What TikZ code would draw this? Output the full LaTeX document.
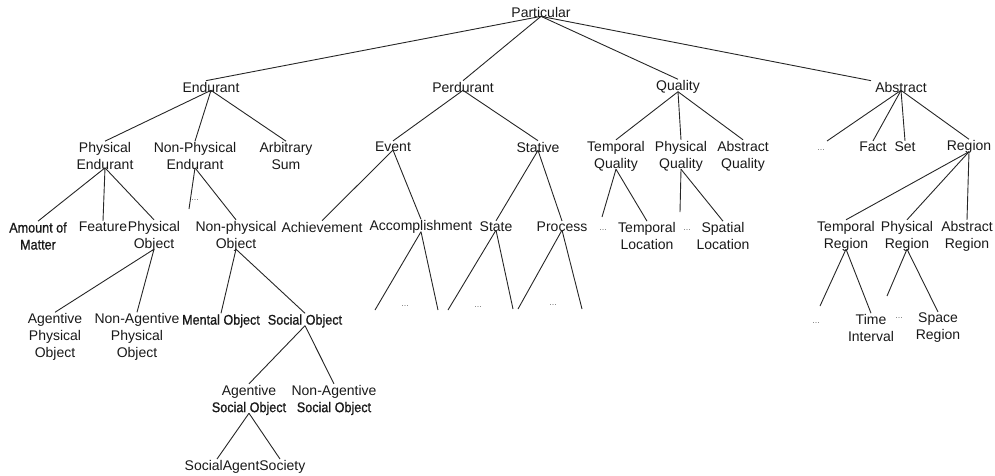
\documentclass[tikz,border=0pt]{standalone}
\usepackage{fontspec}
\setmainfont{Liberation Sans}
\newfontfamily\narrowfont[FakeStretch=0.9,FakeBold=1]{Liberation Sans}
\begin{document}
\begin{tikzpicture}[x=1pt,y=-1pt,
  lbl/.style={font=\fontsize{14}{17}\selectfont, align=center, inner sep=1pt, text=black!90},
  nlbl/.style={font=\fontsize{14}{17}\narrowfont, align=center, inner sep=1pt, text=black!90},
  dots/.style={font=\fontsize{9}{10}\selectfont, text=black!55, inner sep=0.5pt},
  edge/.style={draw=black!85, line width=0.9pt}]
\useasboundingbox (0,0) rectangle (995,475);
% level 0/1
\node[lbl] (P) at (541,12) {Particular};
\node[lbl] (E) at (211,87) {Endurant};
\node[lbl] (Pe) at (463,87) {Perdurant};
\node[lbl] (Q) at (678,87) {Quality};
\node[lbl] (A) at (901,87) {Abstract};
% level 2
\node[lbl] (PE) at (105,156) {Physical\\Endurant};
\node[lbl] (NPE) at (195,156) {Non-Physical\\Endurant};
\node[lbl] (AS) at (286,156) {Arbitrary\\Sum};
\node[lbl] (Ev) at (393,147) {Event};
\node[lbl] (St) at (538,147) {Stative};
\node[lbl] (TQ) at (616,156) {Temporal\\Quality};
\node[lbl] (PQ) at (681,156) {Physical\\Quality};
\node[lbl] (AQ) at (743,156) {Abstract\\Quality};
\node[dots] (Ad) at (821,150) {...};
\coordinate (Ade) at (827,141);
\node[lbl] (Fa) at (873,147) {Fact};
\node[lbl] (Se) at (905,147) {Set};
\node[lbl] (Re) at (969,147) {Region};
% level 3
\node[nlbl] (AoM) at (38,236) {Amount of\\Matter};
\node[lbl] (Fe) at (103,227) {Feature};
\node[lbl] (PO) at (154,236) {Physical\\Object};
\node[dots] (NPEd) at (195,200) {...};
\coordinate (NPEe) at (189,209);
\node[lbl] (NPO) at (236,236) {Non-physical\\Object};
\node[lbl] (Ach) at (322,227) {Achievement};
\node[lbl] (Acc) at (421,227) {Accomplishment};
\node[lbl] (Sta) at (496,227) {State};
\node[lbl] (Pro) at (562,227) {Process};
\node[dots] (TQd) at (603,230) {...};
\coordinate (TQe) at (602,217);
\node[lbl] (TL) at (647,236) {Temporal\\Location};
\node[dots] (PQd) at (687,230) {...};
\coordinate (PQe) at (680,212);
\node[lbl] (SL) at (723,236) {Spatial\\Location};
\node[lbl] (TR) at (846,236) {Temporal\\Region};
\node[lbl] (PR) at (907,236) {Physical\\Region};
\node[lbl] (AR) at (967,236) {Abstract\\Region};
% level 4
\coordinate (a1) at (375,310); \coordinate (a2) at (438,310);
\node[dots] (ad) at (405,306) {...};
\coordinate (s1) at (448,310); \coordinate (s2) at (513,309);
\node[dots] (sd) at (478,307) {...};
\coordinate (p1) at (518,309); \coordinate (p2) at (582,309);
\node[dots] (pd) at (553,305) {...};
\node[lbl] (APO) at (55,337) {Agentive\\Physical\\Object};
\node[lbl] (NAPO) at (137,337) {Non-Agentive\\Physical\\Object};
\node[nlbl] (MO) at (221,321) {Mental Object};
\node[nlbl] (SO) at (305,321) {Social Object};
\node[lbl] (ASO) at (249,400) {Agentive\\{\narrowfont Social Object}};
\node[lbl] (NASO) at (334,400) {Non-Agentive\\{\narrowfont Social Object}};
\node[lbl] (SAS) at (245,467) {SocialAgentSociety};
\coordinate (SASl) at (217,459); \coordinate (SASr) at (280,459);
\coordinate (TRe) at (820,306);
\node[dots] (TRd) at (816,323) {...};
\node[lbl] (TI) at (871,328) {Time\\Interval};
\coordinate (PRe) at (887,296);
\node[dots] (PRd) at (899,318) {...};
\node[lbl] (SR) at (938,328) {Space\\Region};
% connectors
\draw[edge] ([yshift=2pt]P.south) -- ([xshift=-5pt]E.north);
\draw[edge] ([yshift=2pt]P.south) -- (Pe.north);
\draw[edge] ([yshift=2pt]P.south) -- (Q.north);
\draw[edge] ([yshift=2pt]P.south) -- ([xshift=-30pt]A.north);
\foreach \a/\b in {E/PE,E/NPE,E/AS,Pe/Ev,Pe/St,Q/TQ,Q/PQ,Q/AQ,A/Fa,A/Se,A/Re,
  PE/AoM,PE/Fe,PE/PO,NPE/NPO,Ev/Ach,Ev/Acc,St/Sta,St/Pro,TQ/TL,PQ/SL,Re/TR,Re/PR,Re/AR,
  PO/APO,PO/NAPO,NPO/MO,NPO/SO,SO/ASO,SO/NASO,TR/TI,PR/SR}
  \draw[edge] ([yshift=3pt]\a.south) -- (\b.north);
\draw[edge] ([yshift=3pt]A.south) -- (Ade);
\draw[edge] ([yshift=3pt]NPE.south) -- (NPEe);
\draw[edge] ([yshift=3pt]TQ.south) -- (TQe);
\draw[edge] ([yshift=3pt]PQ.south) -- (PQe);
\draw[edge] ([yshift=3pt]Acc.south) -- (a1);
\draw[edge] ([yshift=3pt]Acc.south) -- (a2);
\draw[edge] ([yshift=3pt]Sta.south) -- (s1);
\draw[edge] ([yshift=3pt]Sta.south) -- (s2);
\draw[edge] ([yshift=3pt]Pro.south) -- (p1);
\draw[edge] ([yshift=3pt]Pro.south) -- (p2);
\draw[edge] ([yshift=3pt]ASO.south) -- (SASl);
\draw[edge] ([yshift=3pt]ASO.south) -- (SASr);
\draw[edge] ([yshift=3pt]TR.south) -- (TRe);
\draw[edge] ([yshift=3pt]PR.south) -- (PRe);
\end{tikzpicture}
\end{document}
